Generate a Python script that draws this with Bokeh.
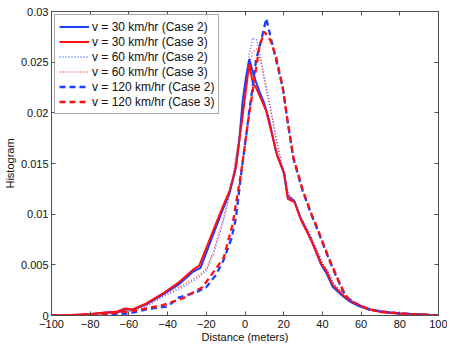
from bokeh.plotting import figure
from bokeh.models import Range1d, LinearAxis, FixedTicker, Legend
from bokeh.embed import file_html
from bokeh.resources import INLINE

# ---- data ----
x30c2 = [-100, -90, -80, -72, -66, -62, -58, -51, -43, -34, -27, -23, -11.6, -8, -5, -3, -1.2, 0.5,
         2.2, 4.8, 7.5, 10, 12.6, 16, 20, 22, 25.5, 29, 32.4, 35, 39.4, 42, 45.4, 50.6, 54, 59, 64, 71,
         80, 92, 100]
y30c2 = [0, 0.00003, 0.00012, 0.0003, 0.0003, 0.0006, 0.0006, 0.0011, 0.0020, 0.0031, 0.0043, 0.0047,
         0.0104, 0.0121, 0.0143, 0.0172, 0.0212, 0.0235, 0.0253, 0.0235, 0.0221, 0.0209, 0.0192, 0.0162,
         0.0141, 0.0118, 0.0113, 0.0095, 0.0082, 0.0071, 0.0050, 0.0042, 0.0028, 0.0019, 0.0014, 0.0009,
         0.0006, 0.0004, 0.0002, 0.0001, 0]

x30c3 = [-100, -90, -80, -72, -66, -62, -58, -51, -43, -34, -27, -23.7, -11.6, -8, -4.7, -2.9, -0.4,
         1.3, 2.2, 4.1, 5.7, 8, 10.9, 13.5, 16.9, 20.4, 22.1, 25.5, 29, 32.4, 35, 39.4, 42, 45.4, 50.6,
         54, 59.2, 64.4, 71.3, 80, 92, 100]
y30c3 = [0, 0.00005, 0.00016, 0.0003, 0.0004, 0.0007, 0.0006, 0.0012, 0.0021, 0.0033, 0.0045, 0.0049,
         0.0107, 0.0123, 0.0146, 0.0173, 0.0209, 0.0235, 0.0248, 0.0229, 0.0225, 0.0215, 0.0202, 0.0182,
         0.0156, 0.0140, 0.0115, 0.0112, 0.0094, 0.0081, 0.0071, 0.0051, 0.0044, 0.0030, 0.0020, 0.0015,
         0.0010, 0.0006, 0.0003, 0.0002, 0.0001, 0]

x60 = [-100, -90, -80, -70, -60, -51, -43, -34, -25, -20, -16, -11.6, -9, -6.4, -3, 0, 2.2, 4, 6, 8,
       10, 13.5, 16, 19, 22.5, 25.5, 29, 33, 36, 40, 43, 46, 51, 55, 60, 66, 72, 80, 90, 100]
y60c2 = [0, 0.00003, 0.0001, 0.0002, 0.0004, 0.0009, 0.0018, 0.0026, 0.0036, 0.0044, 0.0062, 0.0090,
         0.0110, 0.0133, 0.0175, 0.0222, 0.0258, 0.0274, 0.0272, 0.0255, 0.0235, 0.0202, 0.0176, 0.0150,
         0.0120, 0.0114, 0.0097, 0.0083, 0.0070, 0.0052, 0.0043, 0.0030, 0.0020, 0.0014, 0.0010, 0.0006,
         0.0003, 0.0002, 0.0001, 0]
y60c3 = [0, 0.00004, 0.00012, 0.00022, 0.00045, 0.0010, 0.0019, 0.0028, 0.0038, 0.0046, 0.0065, 0.0093,
         0.0113, 0.0136, 0.0178, 0.0220, 0.0248, 0.0260, 0.0263, 0.0252, 0.0232, 0.0200, 0.0175, 0.0149,
         0.0119, 0.0113, 0.0096, 0.0082, 0.0069, 0.0052, 0.0043, 0.0031, 0.0021, 0.0015, 0.0010, 0.0006,
         0.0003, 0.0002, 0.0001, 0]

x120c2 = [-100, -90, -80, -70, -60, -51, -44, -40, -34, -25, -20, -15, -11, -7, -4.7, -2.1, 0.5, 2.2,
          3.9, 5.7, 8.3, 11, 14.8, 19.5, 22, 25, 29.8, 34.2, 37.6, 40, 43.7, 48, 50.6, 53.2, 58, 64, 70,
          80, 90, 100]
y120c2 = [0, 0.00002, 0.00005, 0.0001, 0.0002, 0.0006, 0.0008, 0.0009, 0.0018, 0.0023, 0.0028, 0.0040,
          0.0055, 0.0076, 0.0096, 0.0138, 0.0176, 0.0202, 0.0225, 0.0252, 0.0271, 0.0293, 0.0262, 0.0225,
          0.0192, 0.0155, 0.0123, 0.0100, 0.0084, 0.0072, 0.0054, 0.0035, 0.0024, 0.0017, 0.0011, 0.0006,
          0.0004, 0.0002, 0.0001, 0]

x120c3 = [-100, -90, -80, -70, -60, -51, -43, -32, -22, -17, -11, -6.4, -2.1, 0.5, 2.2, 4.8, 7.4, 10,
          13, 16, 19.5, 22, 25, 29.8, 34.2, 37.6, 40, 43.7, 48, 50.6, 53.2, 58, 64, 70, 80, 90, 100]
y120c3 = [0, 0.00003, 0.0001, 0.0002, 0.0004, 0.0007, 0.0010, 0.0017, 0.0028, 0.0041, 0.0057, 0.0090,
          0.0140, 0.0176, 0.0199, 0.0232, 0.0265, 0.0280, 0.0272, 0.0256, 0.0225, 0.0192, 0.0156, 0.0124,
          0.0101, 0.0085, 0.0073, 0.0055, 0.0036, 0.0025, 0.0017, 0.0011, 0.0006, 0.0004, 0.0002, 0.0001, 0]

labels = ["v = 30 km/hr (Case 2)", "v = 30 km/hr (Case 3)",
          "v = 60 km/hr (Case 2)", "v = 60 km/hr (Case 3)",
          "v = 120 km/hr (Case 2)", "v = 120 km/hr (Case 3)"]

x_ticks = [-100, -80, -60, -40, -20, 0, 20, 40, 60, 80, 100]
x_tick_labels = ["\u2212100", "\u221280", "\u221260", "\u221240", "\u221220", "0", "20", "40", "60", "80", "100"]
y_ticks = [0, 0.005, 0.01, 0.015, 0.02, 0.025, 0.03]
y_tick_labels = ["0", "0.005", "0.01", "0.015", "0.02", "0.025", "0.03"]

BLUE = "#1f3fff"
RED = "#ff1010"
FONT = "Liberation Sans"
AX = "#505050"

p = figure(frame_width=387, frame_height=304, output_backend="svg", toolbar_location=None,
           x_range=Range1d(-100, 100), y_range=Range1d(0, 0.03),
           min_border_left=0, min_border_top=11, min_border_right=9, min_border_bottom=0)
p.xgrid.visible = False
p.ygrid.visible = False
p.outline_line_color = AX
p.outline_line_width = 1

r1 = p.line(x30c2, y30c2, line_color=BLUE, line_width=2)
r2 = p.line(x30c3, y30c3, line_color=RED, line_width=2)
r3 = p.line(x60, y60c2, line_color=BLUE, line_width=1.3, line_dash="1 2", line_alpha=0.8)
r4 = p.line(x60, y60c3, line_color=RED, line_width=1.3, line_dash="1 2", line_alpha=0.8)
r5 = p.line(x120c2, y120c2, line_color=BLUE, line_width=2.3, line_dash="6 4")
r6 = p.line(x120c3, y120c3, line_color=RED, line_width=2.3, line_dash="6 4")

legend = Legend(items=[(labels[i], [r]) for i, r in enumerate([r1, r2, r3, r4, r5, r6])],
                location="top_left", margin=3, padding=4, spacing=0,
                glyph_width=30, glyph_height=15, label_height=15, label_standoff=3,
                label_text_font=FONT, label_text_font_size="12px", label_text_color="#111111",
                border_line_color=AX, border_line_width=1, background_fill_alpha=1)
p.add_layout(legend)

def style(ax):
    ax.axis_line_color = AX
    ax.major_tick_line_color = AX
    ax.major_tick_in = 4
    ax.major_tick_out = 0
    ax.minor_tick_line_color = None
    ax.major_label_text_font = FONT
    ax.major_label_text_font_size = "11px"
    ax.major_label_text_color = "#111111"
    ax.axis_label_text_font = FONT
    ax.axis_label_text_font_size = "11px"
    ax.axis_label_text_font_style = "normal"
    ax.axis_label_text_color = "#111111"

xa = p.xaxis[0]
ya = p.yaxis[0]
style(xa)
style(ya)
xa.ticker = FixedTicker(ticks=x_ticks)
xa.major_label_overrides = {t: s for t, s in zip(x_ticks, x_tick_labels)}
xa.axis_label = "Distance (meters)"
xa.major_label_standoff = 4
xa.axis_label_standoff = 0
ya.ticker = FixedTicker(ticks=y_ticks)
ya.major_label_overrides = {t: s for t, s in zip(y_ticks, y_tick_labels)}
ya.axis_label = "Histogram"
ya.major_label_standoff = 3
ya.axis_label_standoff = 2

top = LinearAxis(ticker=FixedTicker(ticks=x_ticks))
style(top)
top.major_label_overrides = {t: "" for t in x_ticks}
top.major_label_standoff = 0
p.add_layout(top, "above")
right = LinearAxis(ticker=FixedTicker(ticks=y_ticks))
style(right)
right.major_label_overrides = {t: "" for t in y_ticks}
right.major_label_standoff = 0
p.add_layout(right, "right")

open("out.html", "w").write(file_html(p, INLINE))
